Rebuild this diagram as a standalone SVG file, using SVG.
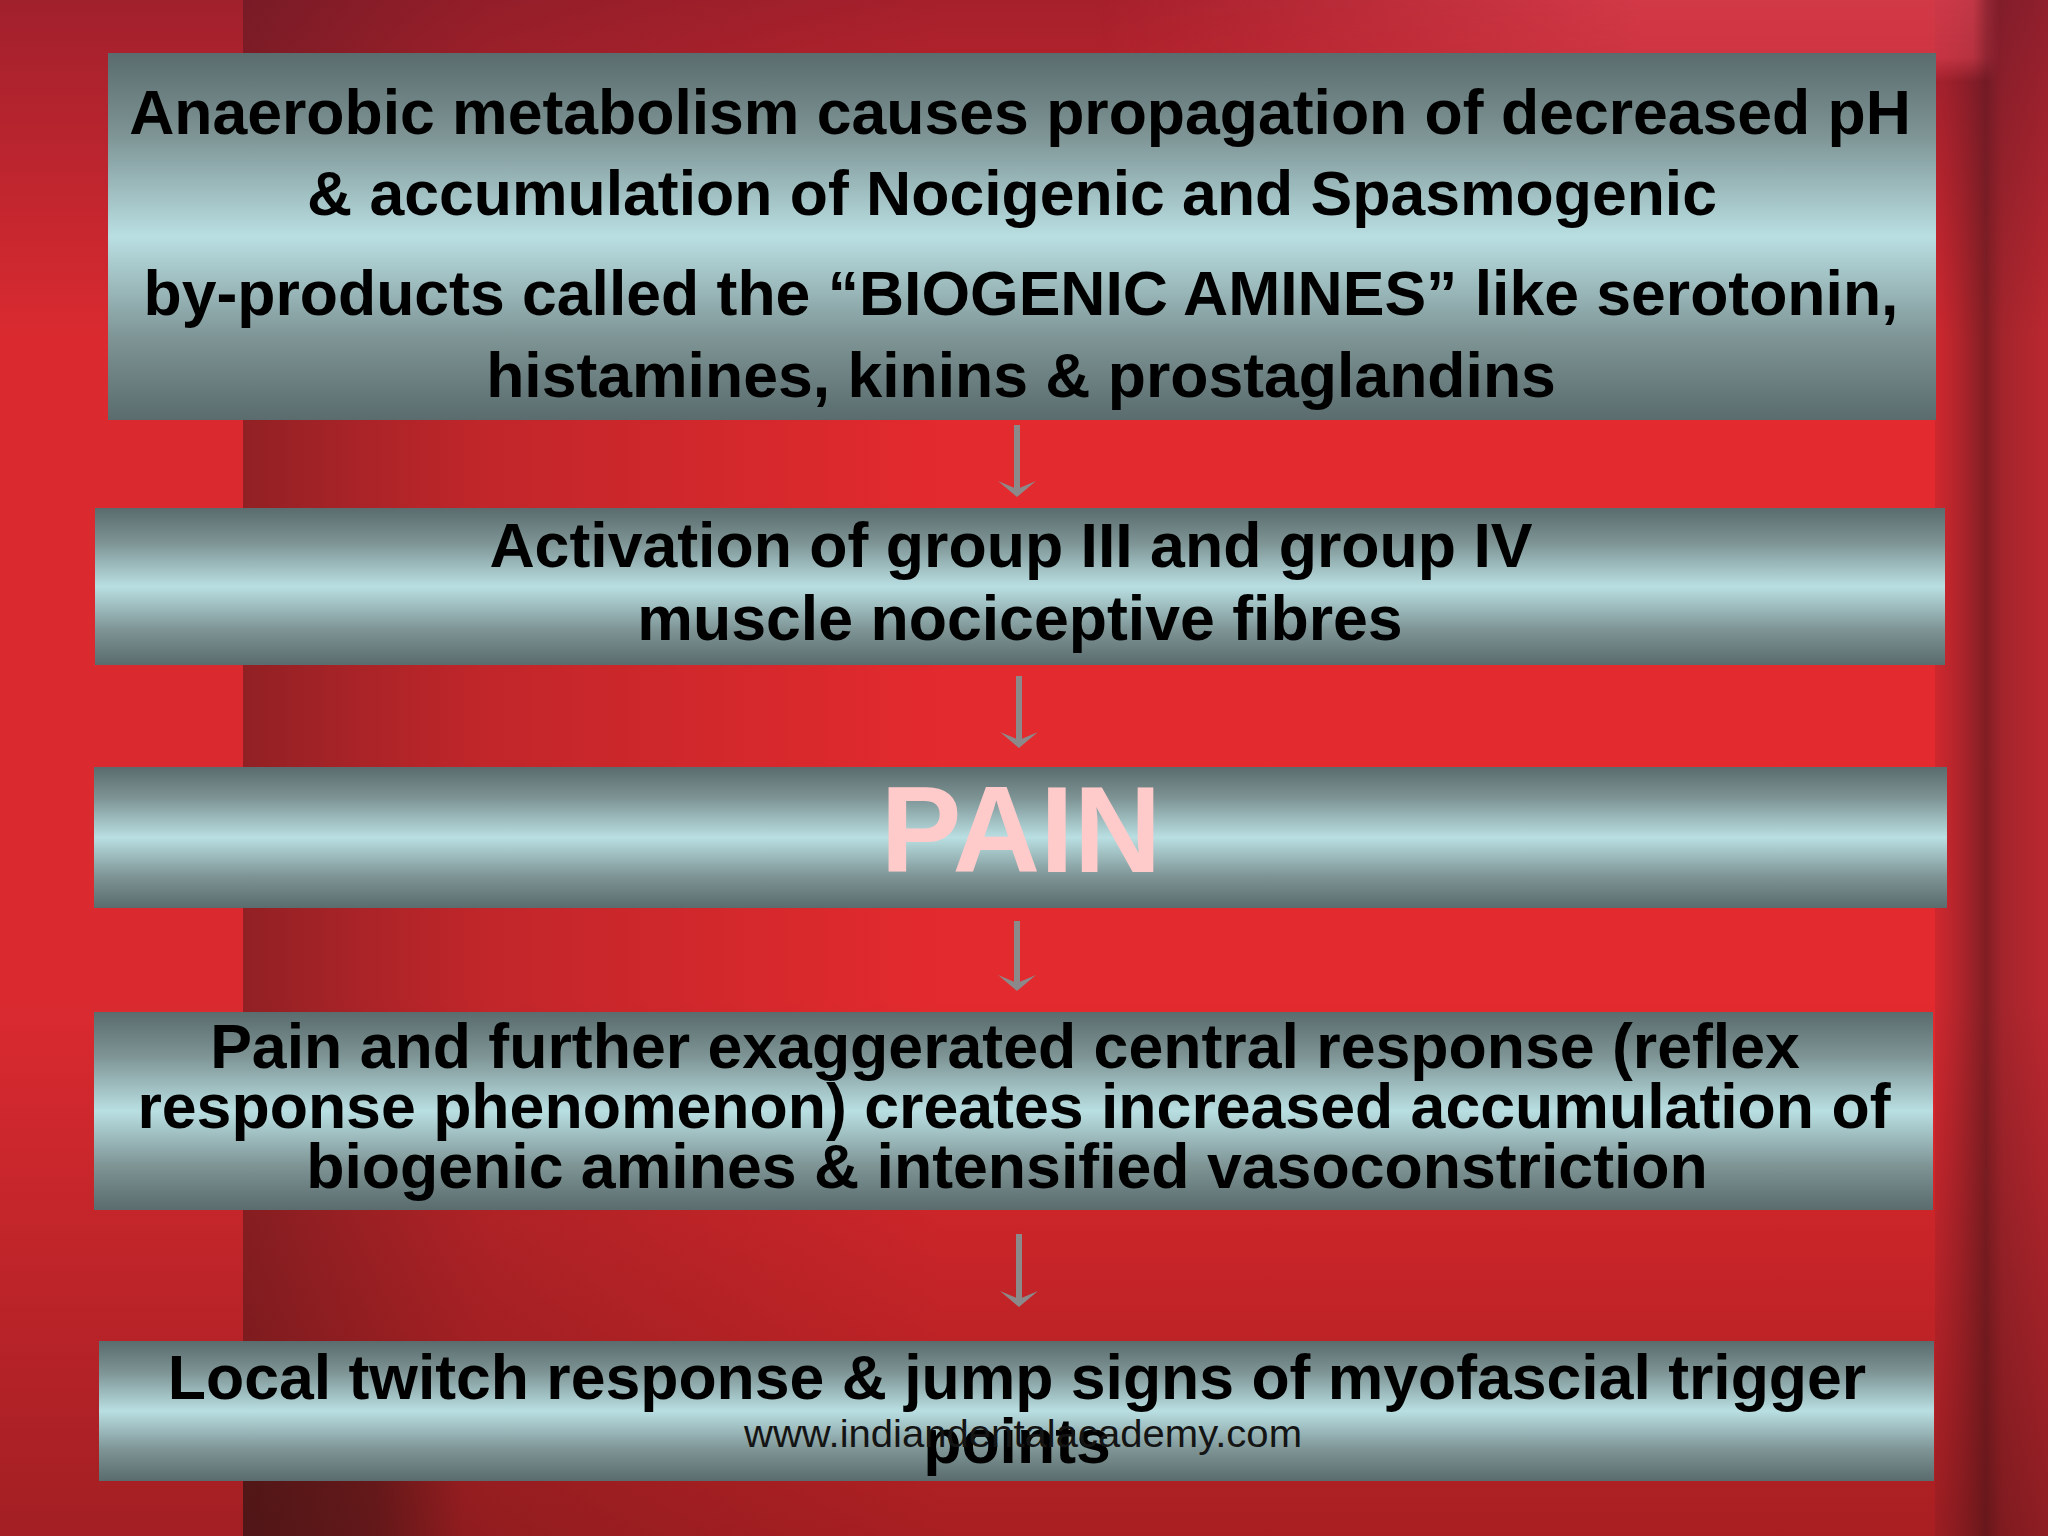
<svg xmlns="http://www.w3.org/2000/svg" width="2048" height="1536" viewBox="0 0 2048 1536">
  <defs>
    <linearGradient id="boxGrad" x1="0" y1="0" x2="0" y2="1">
      <stop offset="0" stop-color="#5a6c6d"/>
      <stop offset="0.22" stop-color="#7d9394"/>
      <stop offset="0.5" stop-color="#b9dfe2"/>
      <stop offset="0.78" stop-color="#7d9394"/>
      <stop offset="1" stop-color="#5a6c6d"/>
    </linearGradient>
    <linearGradient id="leftDark" x1="0" y1="0" x2="1" y2="0">
      <stop offset="0" stop-color="#5a1a1e" stop-opacity="0.6"/>
      <stop offset="0.35" stop-color="#6a1c20" stop-opacity="0.28"/>
      <stop offset="1" stop-color="#6a1c20" stop-opacity="0"/>
    </linearGradient>
    <linearGradient id="rightDark" x1="0" y1="0" x2="1" y2="0">
      <stop offset="0" stop-color="#b02530" stop-opacity="0.4"/>
      <stop offset="0.45" stop-color="#5e1a20" stop-opacity="0.75"/>
      <stop offset="0.6" stop-color="#70202a" stop-opacity="0.55"/>
      <stop offset="1" stop-color="#8a2430" stop-opacity="0.45"/>
    </linearGradient>
    <linearGradient id="vShade" x1="0" y1="0" x2="0" y2="1">
      <stop offset="0" stop-color="#5a1428" stop-opacity="0.45"/>
      <stop offset="0.22" stop-color="#5a1428" stop-opacity="0"/>
      <stop offset="0.65" stop-color="#3a0a0a" stop-opacity="0"/>
      <stop offset="1" stop-color="#3a0a0a" stop-opacity="0.35"/>
    </linearGradient>
    <linearGradient id="topPink" x1="0" y1="0" x2="1" y2="0">
      <stop offset="0" stop-color="#f04a5a" stop-opacity="0"/>
      <stop offset="0.6" stop-color="#f04a5a" stop-opacity="0.6"/>
      <stop offset="0.97" stop-color="#f04a5a" stop-opacity="0.6"/>
      <stop offset="1" stop-color="#f04a5a" stop-opacity="0"/>
    </linearGradient>
    <linearGradient id="fadeDown" x1="0" y1="0" x2="0" y2="1">
      <stop offset="0" stop-color="#fff" stop-opacity="1"/>
      <stop offset="0.7" stop-color="#fff" stop-opacity="0.8"/>
      <stop offset="1" stop-color="#fff" stop-opacity="0"/>
    </linearGradient>
    <mask id="topMask">
      <rect x="1100" y="0" width="900" height="82" fill="url(#fadeDown)"/>
    </mask>
    <linearGradient id="bottomDark" x1="0" y1="0" x2="1" y2="0">
      <stop offset="0" stop-color="#3a1414" stop-opacity="0.6"/>
      <stop offset="0.6" stop-color="#3a1414" stop-opacity="0.45"/>
      <stop offset="1" stop-color="#3a1414" stop-opacity="0"/>
    </linearGradient>
    <marker id="head" markerUnits="userSpaceOnUse" viewBox="-17 -20 18 40" refX="-8" refY="0" markerWidth="18" markerHeight="40" orient="auto">
      <path d="M0,0 L-16,-19 L-8,0 L-16,19 Z" fill="#8c898b"/>
    </marker>
    <style>
      .box { fill: url(#boxGrad); }
      .t { font-family: "Liberation Sans", Arial, sans-serif; font-weight: bold; fill: #000; text-anchor: middle; }
      .conn { stroke: #8c898b; stroke-width: 6; fill: none; marker-end: url(#head); }
    </style>
  </defs>

  <!-- background -->
  <rect x="0" y="0" width="2048" height="1536" fill="#e32a2e"/>
  <rect x="0" y="0" width="243" height="1536" fill="#da2a30"/>
  <rect x="243" y="0" width="700" height="1536" fill="url(#leftDark)"/>
  <rect x="1935" y="0" width="113" height="1536" fill="url(#rightDark)"/>
  <rect x="0" y="0" width="2048" height="1536" fill="url(#vShade)"/>
  <rect x="1100" y="0" width="900" height="82" fill="url(#topPink)" mask="url(#topMask)"/>
  <rect x="243" y="1400" width="220" height="136" fill="url(#bottomDark)"/>

  <g id="node1">
    <rect class="box" x="108" y="53" width="1828" height="367"/>
    <text class="t" font-size="62.5" x="1020" y="134">Anaerobic metabolism causes propagation of decreased pH</text>
    <text class="t" font-size="62.5" x="1012" y="215">&amp; accumulation of Nocigenic and Spasmogenic</text>
    <text class="t" font-size="62.5" x="1021" y="315">by-products called the “BIOGENIC AMINES” like serotonin,</text>
    <text class="t" font-size="62.5" x="1021" y="397">histamines, kinins &amp; prostaglandins</text>
  </g>

  <g id="node2">
    <rect class="box" x="95" y="508" width="1850" height="157"/>
    <text class="t" font-size="62.6" x="1011" y="567">Activation of group III and group IV</text>
    <text class="t" font-size="62.6" x="1020" y="640">muscle nociceptive fibres</text>
  </g>

  <g id="node3">
    <rect class="box" x="94" y="767" width="1853" height="141"/>
    <text class="t" font-size="122" x="1021" y="872" style="fill:#ffcaca" textLength="281" lengthAdjust="spacingAndGlyphs">PAIN</text>
  </g>

  <g id="node4">
    <rect class="box" x="94" y="1012" width="1839" height="198"/>
    <text class="t" font-size="62.6" x="1005" y="1068">Pain and further exaggerated central response (reflex</text>
    <text class="t" font-size="62.6" x="1014" y="1128">response phenomenon) creates increased accumulation of</text>
    <text class="t" font-size="62.6" x="1007" y="1188">biogenic amines &amp; intensified vasoconstriction</text>
  </g>

  <g id="node5">
    <rect class="box" x="99" y="1341" width="1835" height="140"/>
    <text class="t" font-size="62.5" x="1017" y="1399">Local twitch response &amp; jump signs of myofascial trigger</text>
    <text class="t" font-size="62.5" x="1017" y="1463">points</text>
  </g>

  <g id="watermark">
    <text x="1023" y="1447" font-family="Liberation Sans, Arial, sans-serif" font-size="38" fill="#141414" text-anchor="middle" textLength="558" lengthAdjust="spacingAndGlyphs">www.indiandentalacademy.com</text>
  </g>

  <g id="connectors">
    <line class="conn" x1="1017" y1="425" x2="1017" y2="489"/>
    <line class="conn" x1="1019" y1="676" x2="1019" y2="740"/>
    <line class="conn" x1="1017" y1="921" x2="1017" y2="983"/>
    <line class="conn" x1="1019" y1="1234" x2="1019" y2="1299"/>
  </g>
</svg>
